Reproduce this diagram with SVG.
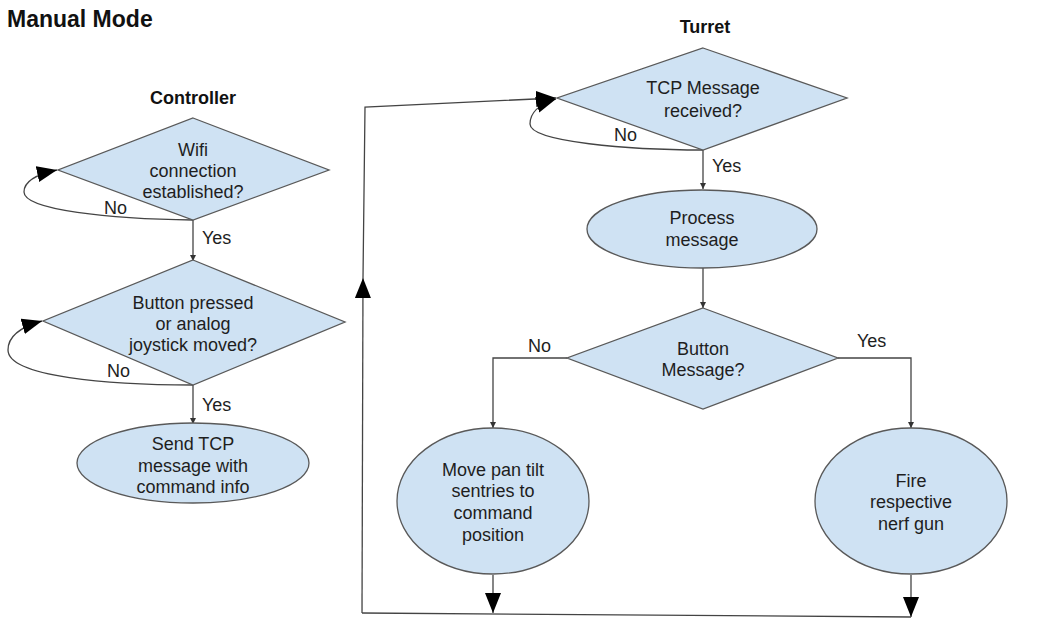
<svg xmlns="http://www.w3.org/2000/svg" width="1061" height="637" viewBox="0 0 1061 637">
<defs>
<style>
.shape{fill:#cfe2f3;stroke:#595959;stroke-width:1.3}
.t{font-family:"Liberation Sans",Arial,sans-serif;font-size:18px;fill:#1e1e1e;text-anchor:middle}
.lbl{font-family:"Liberation Sans",Arial,sans-serif;font-size:18px;fill:#1e1e1e}
.h{font-family:"Liberation Sans",Arial,sans-serif;font-weight:bold;fill:#111}
.c{fill:none;stroke:#444;stroke-width:1.3}
</style>
<marker id="arrS" markerUnits="userSpaceOnUse" markerWidth="8" markerHeight="8" refX="6" refY="3" orient="auto"><path d="M0,0 L6,3 L0,6 z" fill="#333"/></marker>
<marker id="arrB" markerUnits="userSpaceOnUse" markerWidth="22" markerHeight="18" refX="20" refY="8" orient="auto"><path d="M0,0 L20,8 L0,16 z" fill="#000"/></marker>
</defs>
<rect width="1061" height="637" fill="#fff"/>
<text class="h" x="7" y="27" font-size="23">Manual Mode</text>
<text class="h" x="193" y="104" font-size="18" text-anchor="middle">Controller</text>
<text class="h" x="705" y="33" font-size="18" text-anchor="middle">Turret</text>

<g id="connectors">
<path class="c" d="M193,220 L193,261" marker-end="url(#arrS)"/>
<path class="c" d="M193,385 L193,424" marker-end="url(#arrS)"/>
<path class="c" d="M193,220 C110,219 24,210 24,192 C24,181 38,174 57,170" marker-end="url(#arrB)"/>
<path class="c" d="M193,385 C110,385 8,377 8,350 C8,334 24,326 42,321" marker-end="url(#arrB)"/>
<path class="c" d="M703,150 L703,189" marker-end="url(#arrS)"/>
<path class="c" d="M703,268 L703,308" marker-end="url(#arrS)"/>
<path class="c" d="M703,150 C630,150 530,142 530,124 C530,112 540,104 556,99" marker-end="url(#arrB)"/>
<path class="c" d="M567,358 L493,358 L493,428" marker-end="url(#arrS)"/>
<path class="c" d="M838,358 L911,358 L911,428" marker-end="url(#arrS)"/>
<path class="c" d="M493,575 L493,613" marker-end="url(#arrB)"/>
<path class="c" d="M911,575 L911,617" marker-end="url(#arrB)"/>
<path class="c" d="M911,617 L362,613"/>
<path class="c" d="M362,613 L363,278" marker-end="url(#arrB)"/>
<path class="c" d="M363,278 L365,107 L556,98" marker-end="url(#arrB)"/>
<text class="lbl" x="104" y="214">No</text>
<text class="lbl" x="202" y="244">Yes</text>
<text class="lbl" x="107" y="377">No</text>
<text class="lbl" x="202" y="411">Yes</text>
<text class="lbl" x="614" y="141">No</text>
<text class="lbl" x="712" y="172">Yes</text>
<text class="lbl" x="528" y="352">No</text>
<text class="lbl" x="857" y="347">Yes</text>
</g>

<g id="wifi">
<polygon class="shape" points="193,118 329,170 193,220 58,170"/>
<text class="t" x="193" y="156">Wifi</text>
<text class="t" x="193" y="177">connection</text>
<text class="t" x="193" y="198">established?</text>
</g>
<g id="button-pressed">
<polygon class="shape" points="193,260 345,322 193,385 43,321"/>
<text class="t" x="193" y="309">Button pressed</text>
<text class="t" x="193" y="330">or analog</text>
<text class="t" x="193" y="351">joystick moved?</text>
</g>
<g id="send-tcp">
<ellipse class="shape" cx="193" cy="463" rx="116" ry="40"/>
<text class="t" x="193" y="450">Send TCP</text>
<text class="t" x="193" y="472">message with</text>
<text class="t" x="193" y="493">command info</text>
</g>
<g id="tcp-received">
<polygon class="shape" points="703,48 847,98 703,150 557,98"/>
<text class="t" x="703" y="94">TCP Message</text>
<text class="t" x="703" y="117">received?</text>
</g>
<g id="process">
<ellipse class="shape" cx="702" cy="229" rx="115" ry="39"/>
<text class="t" x="702" y="224">Process</text>
<text class="t" x="702" y="246">message</text>
</g>
<g id="button-message">
<polygon class="shape" points="703,308 838,358 703,409 567,358"/>
<text class="t" x="703" y="355">Button</text>
<text class="t" x="703" y="376">Message?</text>
</g>
<g id="move">
<ellipse class="shape" cx="493" cy="501" rx="96" ry="73"/>
<text class="t" x="493" y="476">Move pan tilt</text>
<text class="t" x="493" y="497">sentries to</text>
<text class="t" x="493" y="519">command</text>
<text class="t" x="493" y="541">position</text>
</g>
<g id="fire">
<ellipse class="shape" cx="911" cy="501" rx="96" ry="73"/>
<text class="t" x="911" y="487">Fire</text>
<text class="t" x="911" y="508">respective</text>
<text class="t" x="911" y="530">nerf gun</text>
</g>
</svg>
